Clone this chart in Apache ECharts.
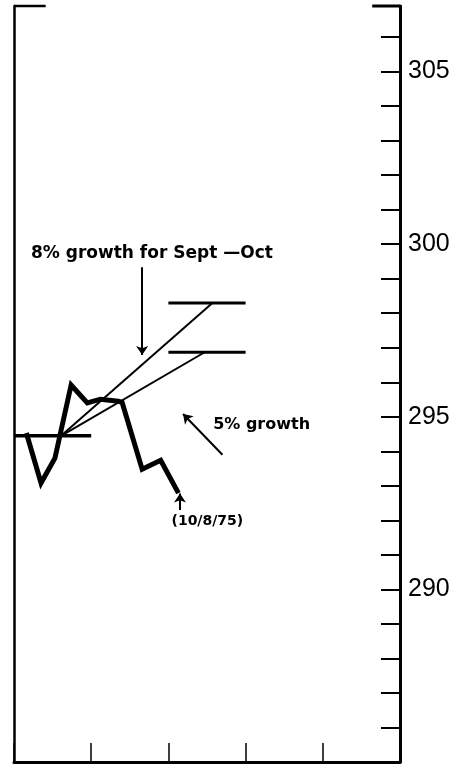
<!DOCTYPE html>
<html>
<head>
<meta charset="utf-8">
<script src="https://cdn.jsdelivr.net/npm/echarts@6/dist/echarts.min.js"></script>
<style>
  html, body { margin: 0; padding: 0; background: #fff; }
  #chart { width: 469px; height: 766px; }
</style>
</head>
<body>
<div id="chart"></div>
<script>
// weekly index readings (x in months from start of scale)
const weekX = [0.16, 0.35, 0.53, 0.74, 0.95, 1.12, 1.35, 1.40, 1.66, 1.90, 2.13]
const weekY = [294.53, 293.08, 293.80, 295.92, 295.40, 295.51, 295.45, 295.42, 293.48, 293.74, 292.79]

// base level and growth targets
const baseLevel = 294.45
const baseX = [0, 1]
const growthStartX = 0.61
const growth8 = 298.3
const growth5 = 296.87
const growthEndX8 = 2.57
const growthEndX5 = 2.47
const targetX = [2, 3]

// axis
const yMin = 285
const yMax = 306.9
const xMin = 0
const xMax = 5
const topStubLeft = [0, 0.41]
const topStubRight = [4.64, 5]

// annotations
const noteText = ['8% growth for Sept —Oct', '5% growth', '(10/8/75)']
const noteX = [0.22, 2.58, 2.04]
const noteY = [299.74, 294.76, 291.98]
const noteSize = [17, 16, 14]

// arrows [x1, y1, x2, y2]
const arrows = [
  [1.66, 299.33, 1.66, 296.79],
  [2.70, 293.9, 2.19, 295.08],
  [2.15, 292.3, 2.15, 292.78]
]

const black = '#000'
const chart = echarts.init(document.getElementById('chart'))

const seg = (xs, y) => xs.map(x => [x, y])

const option = {
  backgroundColor: '#fff',
  animation: false,
  grid: { left: 14, right: 69, top: 6, bottom: 4 },
  xAxis: {
    type: 'value', min: xMin, max: xMax, interval: 1,
    axisLine: { onZero: false, lineStyle: { color: black, width: 3 } },
    axisTick: { inside: true, length: 19, lineStyle: { color: black, width: 1.5 } },
    axisLabel: { show: false },
    splitLine: { show: false }
  },
  yAxis: [
    {
      type: 'value', position: 'right', min: yMin, max: yMax, interval: 1,
      axisLine: { show: true, onZero: false, lineStyle: { color: black, width: 3 } },
      axisTick: { inside: true, length: 19, lineStyle: { color: black, width: 2 } },
      axisLabel: {
        margin: 8, color: black, fontSize: 25, fontFamily: 'Liberation Sans',
        formatter: v => (v % 5 === 0 && v !== yMin) ? String(v) : ''
      },
      splitLine: { show: false }
    },
    {
      type: 'value', position: 'left', min: yMin, max: yMax,
      axisLine: { show: true, onZero: false, lineStyle: { color: black, width: 2.5 } },
      axisTick: { show: false },
      axisLabel: { show: false },
      splitLine: { show: false }
    }
  ],
  series: [
    {
      name: 'index', type: 'line', clip: false, symbol: 'none',
      data: weekX.map((x, i) => [x, weekY[i]]),
      lineStyle: { color: black, width: 5, join: 'miter' }
    },
    {
      name: 'base', type: 'line', clip: false, symbol: 'none',
      data: seg(baseX, baseLevel),
      lineStyle: { color: black, width: 3.5 }
    },
    {
      name: '8%', type: 'line', clip: false, symbol: 'none',
      data: [[growthStartX, baseLevel], [growthEndX8, growth8]],
      lineStyle: { color: black, width: 2 }
    },
    {
      name: '5%', type: 'line', clip: false, symbol: 'none',
      data: [[growthStartX, baseLevel], [growthEndX5, growth5]],
      lineStyle: { color: black, width: 2 }
    },
    {
      name: 'target8', type: 'line', clip: false, symbol: 'none',
      data: seg(targetX, growth8),
      lineStyle: { color: black, width: 3 }
    },
    {
      name: 'target5', type: 'line', clip: false, symbol: 'none',
      data: seg(targetX, growth5),
      lineStyle: { color: black, width: 3 }
    },
    {
      name: 'stubL', type: 'line', clip: false, symbol: 'none',
      data: seg(topStubLeft, yMax),
      lineStyle: { color: black, width: 2.5 }
    },
    {
      name: 'stubR', type: 'line', clip: false, symbol: 'none',
      data: seg(topStubRight, yMax),
      lineStyle: { color: black, width: 3 }
    },
    {
      name: 'notes', type: 'scatter', symbolSize: 0,
      itemStyle: { opacity: 1 },
      data: noteText.map((t, i) => ({
        name: t, value: [noteX[i], noteY[i]],
        label: { fontSize: noteSize[i] }
      })),
      label: {
        show: true, position: 'right', distance: 0,
        formatter: p => p.name,
        color: black, fontWeight: 'bold', fontFamily: 'DejaVu Sans'
      },
      markLine: {
        silent: true, symbol: ['none', 'arrow'], symbolSize: 9,
        label: { show: false },
        lineStyle: { color: black, width: 2, type: 'solid', opacity: 1 },
        data: arrows.map(a => [{ coord: [a[0], a[1]] }, { coord: [a[2], a[3]] }])
      }
    }
  ]
}

chart.setOption(option)
</script>
</body>
</html>
